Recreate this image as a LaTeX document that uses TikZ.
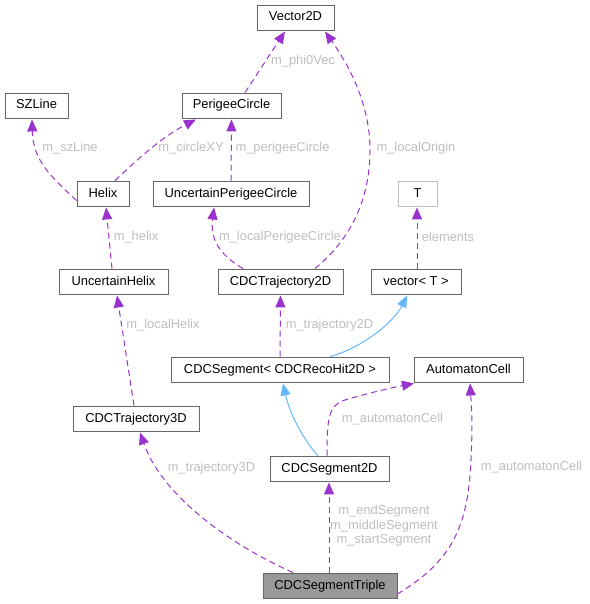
\documentclass[tikz,border=0pt]{standalone}
\usepackage{fontspec}
\setmainfont{Liberation Sans}
\usetikzlibrary{arrows.meta}

\definecolor{edgepurple}{HTML}{9A32CD}
\definecolor{edgeblue}{HTML}{63B8FF}
\definecolor{labelgray}{HTML}{BEBEBE}
\definecolor{boxgray}{HTML}{666666}

\tikzset{
	classbox/.style={draw=boxgray, fill=white, line width=0.9pt, inner sep=0pt,
		minimum height=25, minimum width=#1, text height=9.5pt, text depth=2.5pt,
		font=\fontsize{12.9}{14.5}\selectfont},
	usesedge/.style={edgepurple, line width=1pt, dash pattern=on 6pt off 4pt,
		-{Triangle[length=12pt,width=10pt,sep=0pt]}},
	baseedge/.style={edgeblue, line width=1pt, -{Triangle[length=12pt,width=10pt]}},
	edgelabel/.style={labelgray, font=\fontsize{12.9}{14.5}\selectfont, align=center}
}

\begin{document}
\begin{tikzpicture}[x=1pt, y=-1pt]
	\useasboundingbox (0,0) rectangle (589,604);
	% classes
	\node [classbox=77] (vec) at (295.5,17.5) {Vector2D};
	\node [classbox=63] (szl) at (36.5,105.5) {SZLine};
	\node [classbox=99] (pc) at (231.5,105.5) {PerigeeCircle};
	\node [classbox=52] (hx) at (103,193.5) {Helix};
	\node [classbox=156] (upc) at (231,193.5) {UncertainPerigeeCircle};
	\node [classbox=39, draw=labelgray] (tt) at (417.5,193.5) {T};
	\node [classbox=109] (uh) at (113.5,281.5) {UncertainHelix};
	\node [classbox=125] (tr2) at (280.5,281.5) {CDCTrajectory2D};
	\node [classbox=90] (vt) at (416,281.5) {vector< T >};
	\node [classbox=218] (seg) at (280,369.5) {CDCSegment< CDCRecoHit2D >};
	\node [classbox=109] (ac) at (468.5,369.5) {AutomatonCell};
	\node [classbox=126] (tr3) at (136,418.5) {CDCTrajectory3D};
	\node [classbox=119] (s2d) at (329.5,468.5) {CDCSegment2D};
	\node [classbox=134, fill=black!40] (trip) at (330,585.5) {CDCSegmentTriple};

	% member edges
	\draw [usesedge] ([xshift=13.5]pc.north) -- ([xshift=-10.5,yshift=-1]vec.south);
	\node [edgelabel] (lphi) at (303,61) {m\_phi0Vec};
	\draw [usesedge] ([xshift=34.5]tr2.north) .. controls (350,240) and (370,200) .. (370,150)
		.. controls (370,100) and (345,60) .. ([xshift=29.5,yshift=-1]vec.south);
	\node [edgelabel] (lorig) at (416,148) {m\_localOrigin};
	\draw [usesedge] ([yshift=-7]hx.west) .. controls (50,176) and (33,160) .. ([xshift=-4.5,yshift=-1]szl.south);
	\node [edgelabel] (lsz) at (70,148) {m\_szLine};
	\draw [usesedge] ([xshift=12]hx.north) .. controls (135,162) and (160,138) .. ([xshift=-35.5,yshift=-1]pc.south);
	\node [edgelabel] (lxy) at (191,148) {m\_circleXY};
	\draw [usesedge] (upc.north) -- ([yshift=-1]pc.south);
	\node [edgelabel] (lpc) at (282.5,148) {m\_perigeeCircle};
	\draw [usesedge] ([xshift=-37.5]tr2.north) .. controls (220,255) and (210,240) .. ([xshift=-17,yshift=-1]upc.south);
	\node [edgelabel] (llpc) at (280,237) {m\_localPerigeeCircle};
	\draw [usesedge] ([xshift=-1.5]uh.north) -- ([xshift=3,yshift=-1]hx.south);
	\node [edgelabel] (lhx) at (136,237) {m\_helix};
	\draw [usesedge] ([xshift=1]vt.north) -- ([xshift=-0.5,yshift=-1]tt.south);
	\node [edgelabel] (lel) at (448,237) {elements};
	\draw [usesedge] (seg.north) -- ([yshift=-1]tr2.south);
	\node [edgelabel] (ltr2) at (329.5,325) {m\_trajectory2D};
	\draw [usesedge] ([xshift=-2]tr3.north) -- ([xshift=3.5,yshift=-1]uh.south);
	\node [edgelabel] (llh) at (163,325) {m\_localHelix};
	\draw [usesedge] ([xshift=-2.5]s2d.north) .. controls (327,420) and (328,405) .. (345,400)
		.. controls (365,394) and (390,388) .. ([xshift=-54.5,yshift=-1]ac.south);
	\node [edgelabel] (lac1) at (392.5,419) {m\_automatonCell};
	\draw [usesedge] ([xshift=-37]trip.north) .. controls (220,540) and (160,490) .. ([xshift=4,yshift=-1]tr3.south);
	\node [edgelabel] (ltr3) at (211.5,468) {m\_trajectory3D};
	\draw [usesedge] ([xshift=-1]trip.north) -- ([xshift=-0.5,yshift=-1]s2d.south);
	\node [edgelabel] (lseg) at (384,526) {m\_endSegment\\m\_middleSegment\\m\_startSegment};
	\draw [usesedge] ([yshift=-8.5]trip.east) .. controls (450,562) and (468,530) .. (471,460)
		.. controls (473,420) and (471,400) .. ([xshift=1.5,yshift=-1]ac.south);
	\node [edgelabel] (lac2) at (531.5,467) {m\_automatonCell};

	% inheritance
	\draw [baseedge] ([xshift=50]seg.north) .. controls (365,347) and (395,320) .. ([xshift=-9,yshift=-1]vt.south);
	\draw [baseedge] ([xshift=-11.5]s2d.north) .. controls (305,442) and (290,415) .. ([xshift=3,yshift=-1]seg.south);
\end{tikzpicture}
\end{document}
